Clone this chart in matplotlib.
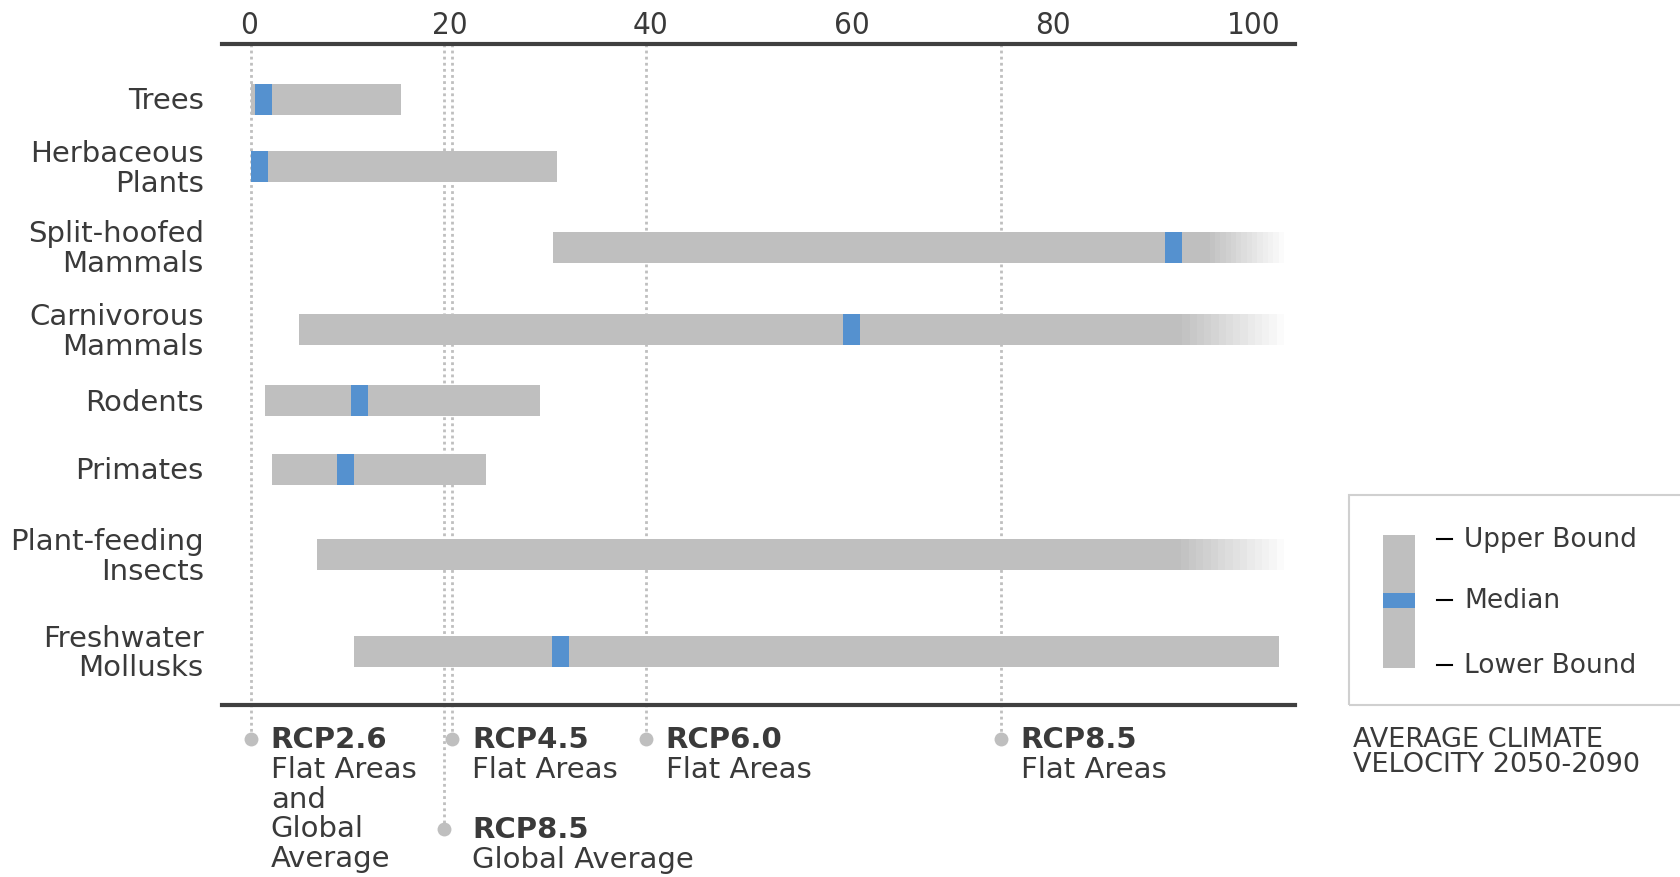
import matplotlib.pyplot as plt
from matplotlib.patches import Rectangle
import numpy as np

# species groups, top to bottom
groups = ["Trees", "Herbaceous\nPlants", "Split-hoofed\nMammals", "Carnivorous\nMammals",
          "Rodents", "Primates", "Plant-feeding\nInsects", "Freshwater\nMollusks"]
lower = [0.2, 0.2, 30.3, 5.0, 1.6, 2.3, 6.8, 10.5]
median = [1.45, 1.05, 92.0, 60.0, 11.0, 9.6, np.nan, 31.0]
upper = [15.1, 30.7, 95.6, 92.9, 29.0, 23.6, 92.8, 102.5]
open_ended = [False, False, True, True, False, False, True, False]  # bar fades out past upper

# climate velocity reference lines
rcp_names = ["RCP2.6", "RCP4.5", "RCP6.0", "RCP8.5", "RCP8.5"]
rcp_desc = ["Flat Areas\nand\nGlobal\nAverage", "Flat Areas", "Flat Areas", "Flat Areas", "Global Average"]
rcp_vals = [0.2, 20.2, 39.5, 74.8, 19.4]
xticks = [0, 20, 40, 60, 80, 100]

# layout (y in picture rows, 818 px tall reference)
row_y = [92.5, 155.5, 230.5, 307.5, 373.5, 437.5, 517.5, 607.5]
rcp_y = [689, 689, 689, 689, 773]
rcp_dx = [2.0, 2.0, 2.0, 2.0, 2.8]  # text offset from the dot, x units
bar_h = 29
med_w = 1.7
fade_end = 103

gray = '#bfbfbf'
blue = '#5591cf'
dark = '#404040'
txt = '#3a3a3a'
plt.rcParams['font.family'] = ['DejaVu Sans']

W, H = 1568, 818
def fx(d): return d / W
def fy(d): return 1 - d / H

fig = plt.figure(figsize=(16.81, 8.77), dpi=100)
ax = fig.add_axes([fx(207), fy(658), fx(1208) - fx(207), fy(41) - fy(658)])
ax.set_xlim(-2.67, 104.1)
ax.set_ylim(658, 41)

for s in ['left', 'right']:
    ax.spines[s].set_visible(False)
for s in ['top', 'bottom']:
    ax.spines[s].set_color(dark)
    ax.spines[s].set_linewidth(3)
ax.xaxis.tick_top()
ax.set_xticks(xticks)
ax.set_xticklabels([str(t) for t in xticks], fontsize=22.5, color=txt, fontstretch='condensed')
ax.tick_params(axis='x', length=0, pad=3)
ax.set_yticks([])

# dotted reference lines running down to the annotations
for v, yy in zip(rcp_vals, rcp_y):
    ax.plot([v, v], [41, yy], ls=(0, (1, 1.2)), color=gray, lw=2, clip_on=False, zorder=1)
    ax.plot(v, yy, 'o', color=gray, ms=10, mec='none', clip_on=False, zorder=3)

for name, desc, v, yy, dx in zip(rcp_names, rcp_desc, rcp_vals, rcp_y, rcp_dx):
    ax.text(v + dx, yy + 1, name, fontsize=21, fontweight='bold', color=txt,
            va='center', ha='left', clip_on=False)
    ax.text(v + dx, yy + 16, desc, fontsize=21, color=txt, va='top', ha='left',
            linespacing=1.08, clip_on=False)

for i, g in enumerate(groups):
    y = row_y[i]
    ax.barh(y, upper[i] - lower[i], left=lower[i], height=bar_h, color=gray, zorder=2)
    if open_ended[i]:
        steps = 14
        edges = np.linspace(upper[i], fade_end, steps + 1)
        for k in range(steps):
            t = (k + 1) / (steps + 1)
            c = np.array([0.749] * 3) * (1 - t) + t
            ax.barh(y, edges[k + 1] - edges[k], left=edges[k], height=bar_h,
                    color=tuple(c), zorder=2, lw=0)
    if not np.isnan(median[i]):
        ax.barh(y, med_w, left=median[i] - med_w / 2, height=bar_h, color=blue, zorder=3)
    fig.text(fx(190), fy(y + 2), g, fontsize=21, color=txt, ha='right', va='center', linespacing=1.08)

# legend box
fig.patches.append(Rectangle((fx(1258), fy(658)), 1.0, fy(462) - fy(658), transform=fig.transFigure,
                             facecolor='none', edgecolor='#d0d0d0', lw=1.5))
fig.patches.append(Rectangle((fx(1290), fy(623)), fx(30), fy(499) - fy(623), transform=fig.transFigure,
                             facecolor=gray, edgecolor='none'))
fig.patches.append(Rectangle((fx(1290), fy(567)), fx(30), fy(553) - fy(567), transform=fig.transFigure,
                             facecolor=blue, edgecolor='none'))
for lab, yy in zip(["Upper Bound", "Median", "Lower Bound"], [503, 560, 620]):
    fig.lines.append(plt.Line2D([fx(1340), fx(1354)], [fy(yy), fy(yy)], transform=fig.transFigure,
                                color='black', lw=1.5))
    fig.text(fx(1366), fy(yy + 1), lab, fontsize=19, color=txt, ha='left', va='center')

fig.text(fx(1262), fy(678), "AVERAGE CLIMATE\nVELOCITY 2050-2090", fontsize=19.5, color=txt,
         ha='left', va='top', linespacing=0.95)

fig.savefig('out.png', dpi=100)
